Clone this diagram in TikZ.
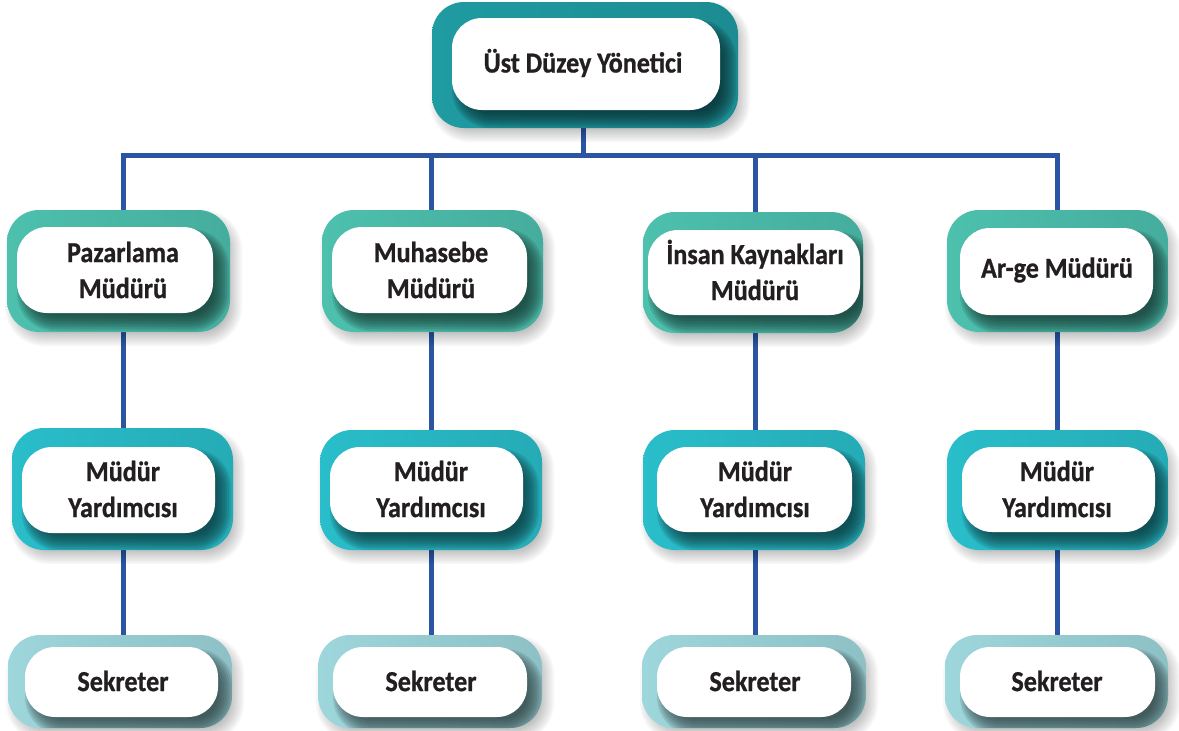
\documentclass[tikz,border=0pt]{standalone}
\usepackage{fontspec}
\newfontfamily\boxfont{Carlito}[FakeStretch=0.9, FakeBold=0.8]
\usetikzlibrary{calc,fit,backgrounds}

\definecolor{linkblue}{HTML}{2B55A3}
\definecolor{headc}{HTML}{1F9BA2}
\definecolor{managerc}{HTML}{4DC0AE}
\definecolor{deputyc}{HTML}{29BECA}
\definecolor{clerkc}{HTML}{9DD6DB}
\definecolor{inkc}{HTML}{231F20}

\tikzset{
  outerbox/.style={rectangle, inner sep=0pt, rounded corners=32pt},
  innerbox/.style={rectangle, inner sep=0pt, rounded corners=30pt, fill=white},
  boxlabel/.style={inner sep=0pt, align=center, text=inkc,
    font=\boxfont\bfseries\fontsize{29}{36}\selectfont},
  link/.style={draw=linkblue, line width=5pt},
}

% soft (blurred) rounded patch: NW, SE, radius, colour, layer opacity, offset, spread
\newcommand\softpatch[7]{%
  \foreach \k in {0,...,8}{%
    \pgfmathsetmacro\ext{#7*(1-\k/4)}%
    \pgfmathsetmacro\rad{#3+\ext}%
    \fill[#4, opacity=#5, rounded corners=\rad pt]
      ($#1+#6-(\ext,\ext)$) rectangle ($#2+#6+(\ext,\ext)$);
  }}

% one chart box: name, colour, outer NW/SE, inner NW/SE, label position, label
\newcommand\orgbox[8]{%
  \softpatch{#3}{#4}{32}{black}{0.03}{(5,7)}{7}
  \node[outerbox, fit={#3 #4}, left color=#2, right color=#2!90!black] (#1-frame) {};
  \begin{scope}
    \clip[rounded corners=32pt] #3 rectangle #4;
    \softpatch{#5}{#6}{30}{#2!30!black}{0.15}{(8,10)}{8}
  \end{scope}
  \node[innerbox, fit={#5 #6}] (#1-face) {};
  \node[boxlabel] (#1) at #7 {#8};
}

\begin{document}
\begin{tikzpicture}[x=1pt, y=-1pt]
\useasboundingbox (0,0) rectangle (1179,731);

% head of the organisation
\orgbox{top}{headc}{(432,2)}{(738,128)}{(452,18)}{(720,110)}{(583,63)}{Üst Düzey Yönetici}

% department managers
\orgbox{pm}{managerc}{(7,210)}{(230,332)}{(17,227)}{(213,313)}{(123,270)}{Pazarlama\\Müdürü}
\orgbox{mh}{managerc}{(322,210)}{(543,332)}{(332,227)}{(527,313)}{(431,270)}{Muhasebe\\Müdürü}
\orgbox{ik}{managerc}{(643,212)}{(863,333)}{(648,230)}{(860,315)}{(755,270)}{İnsan Kaynakları\\Müdürü}
\orgbox{ar}{managerc}{(947,210)}{(1168,332)}{(960,228)}{(1153,315)}{(1057,270)}{Ar-ge Müdürü}

% deputies
\orgbox{pa}{deputyc}{(12,428)}{(233,550)}{(22,447)}{(215,533)}{(123,489)}{Müdür\\Yardımcısı}
\orgbox{ma}{deputyc}{(320,430)}{(542,550)}{(330,447)}{(523,532)}{(431,489)}{Müdür\\Yardımcısı}
\orgbox{ia}{deputyc}{(643,430)}{(865,550)}{(657,447)}{(852,532)}{(755,489)}{Müdür\\Yardımcısı}
\orgbox{aa}{deputyc}{(947,430)}{(1168,550)}{(962,447)}{(1155,532)}{(1057,489)}{Müdür\\Yardımcısı}

% secretaries
\orgbox{ps}{clerkc}{(8,635)}{(232,728)}{(25,647)}{(218,717)}{(123,681)}{Sekreter}
\orgbox{ms}{clerkc}{(318,635)}{(542,728)}{(333,647)}{(527,717)}{(431,681)}{Sekreter}
\orgbox{is}{clerkc}{(642,635)}{(866,728)}{(657,647)}{(851,717)}{(755,681)}{Sekreter}
\orgbox{as}{clerkc}{(945,635)}{(1168,728)}{(960,647)}{(1155,717)}{(1057,681)}{Sekreter}

\coordinate (bus) at (583,155);

\begin{pgfonlayer}{background}
  \draw[link] (top.center) -- (bus);
  \draw[link] (pm.center) |- (bus) -| (ar.center);
  \draw[link] (mh.center) -- (mh.center |- bus);
  \draw[link] (ik.center) -- (ik.center |- bus);
  \draw[link] (pm.center) -- (pa.center) -- (ps.center);
  \draw[link] (mh.center) -- (ma.center) -- (ms.center);
  \draw[link] (ik.center) -- (ia.center) -- (is.center);
  \draw[link] (ar.center) -- (aa.center) -- (as.center);
\end{pgfonlayer}
\end{tikzpicture}
\end{document}
